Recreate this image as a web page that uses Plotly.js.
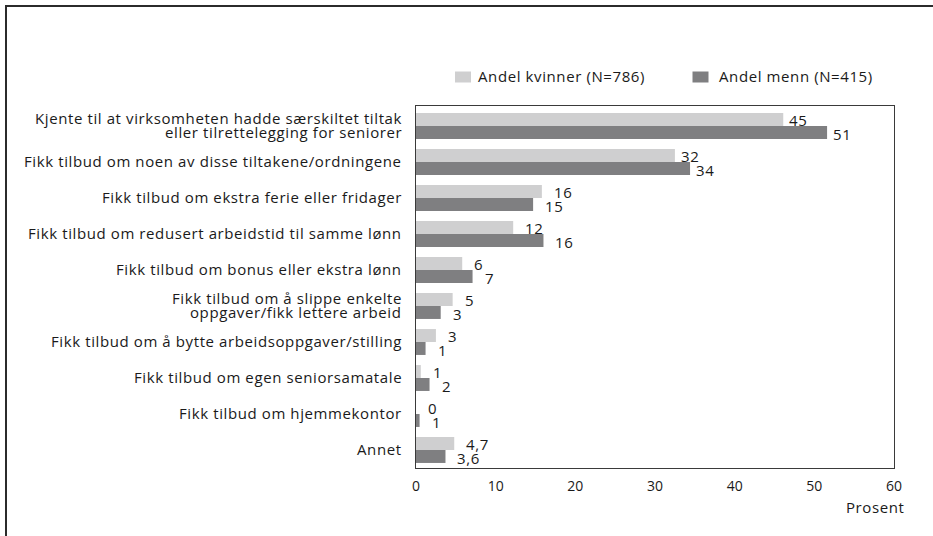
<!DOCTYPE html>
<html>
<head>
<meta charset="utf-8">
<script src="https://cdn.plot.ly/plotly-3.0.1.min.js"></script>
<style>
  html, body { margin:0; padding:0; background:#fff; }
  #wrap { position:relative; width:933px; height:536px; overflow:hidden; }
  #chart { position:absolute; left:0; top:0; width:933px; height:536px; }
  #frame { position:absolute; left:5px; top:5px; right:-10px; bottom:-10px;
           border-left:2px solid #2b2b2b; border-top:2px solid #2b2b2b; pointer-events:none; }
  .annotation-text { letter-spacing:0.6px; }
</style>
</head>
<body>
<div id="wrap"><div id="chart"></div><div id="frame"></div></div>
<script>
// ---- data ----
const categories = [
  "Kjente til at virksomheten hadde særskiltet tiltak<br>eller tilrettelegging for seniorer",
  "Fikk tilbud om noen av disse tiltakene/ordningene",
  "Fikk tilbud om ekstra ferie eller fridager",
  "Fikk tilbud om redusert arbeidstid til samme lønn",
  "Fikk tilbud om bonus eller ekstra lønn",
  "Fikk tilbud om å slippe enkelte<br>oppgaver/fikk lettere arbeid",
  "Fikk tilbud om å bytte arbeidsoppgaver/stilling",
  "Fikk tilbud om egen seniorsamatale",
  "Fikk tilbud om hjemmekontor",
  "Annet"
];
const kvinnerValues = [46.1, 32.5, 15.8, 12.2, 5.8, 4.6, 2.5, 0.6, 0.0, 4.8];
const mennValues    = [51.6, 34.4, 14.7, 16.0, 7.1, 3.1, 1.2, 1.7, 0.45, 3.7];
const kvinnerLabels = ["45", "32", "16", "12", "6", "5", "3", "1", "0", "4,7"];
const mennLabels    = ["51", "34", "15", "16", "7", "3", "1", "2", "1", "3,6"];
const seriesNames   = ["Andel kvinner (N=786)", "Andel menn (N=415)"];
const xTicks        = [0, 10, 20, 30, 40, 50, 60];
const xTitle        = "Prosent";

// ---- style ----
const FONT = "Open Sans, Noto Sans, sans-serif";
const FS = 15;
const TXT = "#1a1a1a";
const C_K = "#cfcfd0";
const C_M = "#7f7f81";
const W = 933, H = 536;
const M = {l:416, r:39, t:106, b:68};
const PW = W - M.l - M.r, PH = H - M.t - M.b;
const px = x => (x - M.l) / PW;
const py = y => (H - M.b - y) / PH;

const traces = [
  {type:"bar", orientation:"h", name:seriesNames[0], y:categories, x:kvinnerValues,
   marker:{color:C_K}, showlegend:false, hoverinfo:"skip"},
  {type:"bar", orientation:"h", name:seriesNames[1], y:categories, x:mennValues,
   marker:{color:C_M}, showlegend:false, hoverinfo:"skip"}
];

const annotations = [];
const tfont = {family:FONT, size:FS, color:TXT};
categories.forEach((c, i) => {
  // category label, one annotation per line with tight line spacing
  const lines = c.split("<br>");
  const LS = 14.5;
  lines.forEach((ln, k) => {
    annotations.push({x:px(404), y:c, xref:"paper", yref:"y", text:ln, showarrow:false,
      xanchor:"right", align:"right", yanchor:"middle",
      yshift:((lines.length - 1) / 2 - k) * LS + 1, font:tfont});
  });
  const pad = i < 2 ? 4 : 10;
  annotations.push({x:kvinnerValues[i], y:c, xref:"x", yref:"y", text:kvinnerLabels[i],
    showarrow:false, xanchor:"left", align:"left", yanchor:"middle", xshift:pad, yshift:6, font:tfont});
  annotations.push({x:mennValues[i], y:c, xref:"x", yref:"y", text:mennLabels[i],
    showarrow:false, xanchor:"left", align:"left", yanchor:"middle", xshift:pad, yshift:-8, font:tfont});
});
// axis title
annotations.push({x:px(907), y:py(507), xref:"paper", yref:"paper", text:xTitle,
  showarrow:false, xanchor:"right", align:"right", yanchor:"middle", font:tfont});
// legend texts
annotations.push({x:px(476), y:py(76), xref:"paper", yref:"paper", text:seriesNames[0],
  showarrow:false, xanchor:"left", align:"left", yanchor:"middle", font:tfont});
annotations.push({x:px(717), y:py(76), xref:"paper", yref:"paper", text:seriesNames[1],
  showarrow:false, xanchor:"left", align:"left", yanchor:"middle", font:tfont});

const shapes = [
  {type:"rect", xref:"paper", yref:"paper", x0:px(455), x1:px(471), y0:py(82.5), y1:py(71.5),
   fillcolor:C_K, line:{width:0}},
  {type:"rect", xref:"paper", yref:"paper", x0:px(692.5), x1:px(708.5), y0:py(82.5), y1:py(71.5),
   fillcolor:C_M, line:{width:0}}
];

const layout = {
  width:W, height:H,
  margin:M,
  paper_bgcolor:"#fff", plot_bgcolor:"#fff",
  barmode:"group", bargap:0.28, bargroupgap:0,
  font:{family:FONT, size:FS, color:TXT},
  xaxis:{range:[0,60], tickvals:xTicks, ticktext:xTicks.map(String), showgrid:false, zeroline:false,
         showline:true, mirror:true, linecolor:"#3a3a3a", linewidth:1, ticks:"", ticklabelstandoff:5,
         tickfont:{family:FONT, size:14, color:TXT}, fixedrange:true},
  yaxis:{autorange:"reversed", showgrid:false, zeroline:false, showline:true, mirror:true,
         linecolor:"#3a3a3a", linewidth:1, ticks:"", showticklabels:false, fixedrange:true},
  annotations:annotations,
  shapes:shapes,
  showlegend:false
};

Plotly.newPlot("chart", traces, layout, {displayModeBar:false, staticPlot:true});
</script>
</body>
</html>
